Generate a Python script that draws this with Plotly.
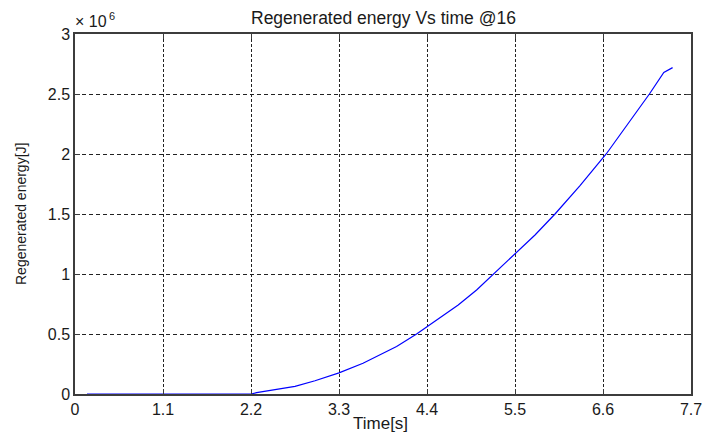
import plotly.graph_objects as go

# Data
time_s = [0.15, 2.2, 2.27, 2.75, 3.0, 3.3, 3.6, 4.02, 4.27, 4.4, 4.79, 5.02,
          5.23, 5.5, 5.75, 6.0, 6.31, 6.64, 6.9, 7.18, 7.36, 7.47]
energy_mj = [0.0, 0.0, 0.011, 0.063, 0.11, 0.176, 0.256, 0.395, 0.5, 0.56, 0.742,
             0.867, 1.0, 1.165, 1.325, 1.5, 1.735, 2.0, 2.24, 2.5, 2.68, 2.72]
energy_j = [v * 1e6 for v in energy_mj]

x_ticks = [0, 1.1, 2.2, 3.3, 4.4, 5.5, 6.6, 7.7]
x_tick_labels = ["0", "1.1", "2.2", "3.3", "4.4", "5.5", "6.6", "7.7"]
y_ticks = [0, 0.5e6, 1e6, 1.5e6, 2e6, 2.5e6, 3e6]
y_tick_labels = ["0", "0.5", "1", "1.5", "2", "2.5", "3"]

FONT = "Liberation Sans, Arial, sans-serif"
TXT = "#1a1a1a"
AX = "#3c3c3c"

fig = go.Figure()
fig.add_trace(go.Scatter(x=time_s, y=energy_j, mode="lines",
                         line=dict(color="#0000ff", width=1.2),
                         showlegend=False, hoverinfo="skip"))

fig.update_layout(
    width=704, height=434,
    margin=dict(l=75, r=13, t=34, b=40, autoexpand=False),
    paper_bgcolor="white", plot_bgcolor="white",
    font=dict(family=FONT, color=TXT),
)

fig.update_xaxes(
    range=[0, 7.7], tickmode="array", tickvals=x_ticks, ticktext=x_tick_labels,
    showline=True, linecolor=AX, linewidth=1.5, mirror="ticks",
    ticks="inside", ticklen=5, tickcolor=AX, tickwidth=1,
    showgrid=True, gridcolor="#222222", gridwidth=1, griddash="3px,2px",
    zeroline=False, automargin=False,
    tickfont=dict(size=16, family=FONT, color=TXT),
)
fig.update_yaxes(
    range=[0, 3e6], tickmode="array", tickvals=y_ticks, ticktext=y_tick_labels,
    showline=True, linecolor=AX, linewidth=1.5, mirror="ticks",
    ticks="inside", ticklen=5, tickcolor=AX, tickwidth=1,
    showgrid=True, gridcolor="#222222", gridwidth=1, griddash="4px,3px",
    zeroline=False, automargin=False,
    tickfont=dict(size=16, family=FONT, color=TXT),
)

# Title and axis titles as annotations for precise placement
fig.add_annotation(text="Regenerated energy Vs time @16", xref="paper", yref="paper",
                   x=0.5, y=1, xanchor="center", yanchor="middle", yshift=16,
                   showarrow=False, font=dict(size=17.5, family=FONT, color=TXT))
fig.add_annotation(text="Time[s]", xref="paper", yref="paper",
                   x=0.5, y=0, xanchor="center", yanchor="middle", yshift=-29, xshift=-3,
                   showarrow=False, font=dict(size=17, family=FONT, color=TXT))
fig.add_annotation(text="Regenerated energy[J]", xref="paper", yref="paper",
                   x=0, y=0.5, xanchor="center", yanchor="middle", xshift=-54,
                   textangle=-90, showarrow=False,
                   font=dict(size=14, family=FONT, color=TXT))
fig.add_annotation(text="× 10", xref="paper", yref="paper",
                   x=0, y=1, xanchor="left", yanchor="bottom", showarrow=False,
                   xshift=-2, yshift=2, font=dict(size=16, family=FONT, color=TXT))
fig.add_annotation(text="6", xref="paper", yref="paper",
                   x=0, y=1, xanchor="left", yanchor="bottom", showarrow=False,
                   xshift=32, yshift=10, font=dict(size=11, family=FONT, color=TXT))

fig.write_html("out.html", config={"displayModeBar": False},
               post_script="document.body.style.margin='0px';document.body.style.padding='0px';")
